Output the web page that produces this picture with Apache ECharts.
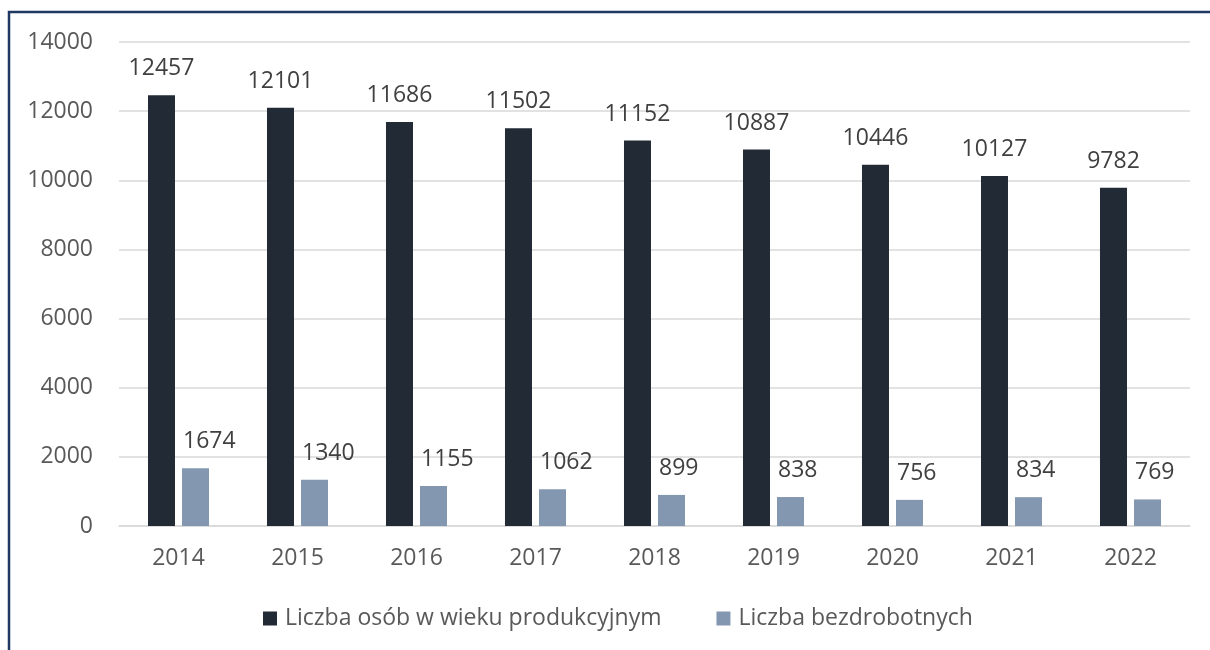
<!DOCTYPE html>
<html>
<head>
<meta charset="utf-8">
<script src="https://cdn.jsdelivr.net/npm/echarts@6/dist/echarts.min.js"></script>
<style>
  html, body { margin: 0; padding: 0; background: #ffffff; }
  #chart { width: 1210px; height: 650px; }
</style>
</head>
<body>
<div id="chart"></div>
<script>
// Years on the category axis
const years = ['2014', '2015', '2016', '2017', '2018', '2019', '2020', '2021', '2022'];
// Working-age population
const workingAge = [12457, 12101, 11686, 11502, 11152, 10887, 10446, 10127, 9782];
// Registered unemployed
const unemployed = [1674, 1340, 1155, 1062, 899, 838, 756, 834, 769];
const seriesNames = ['Liczba osób w wieku produkcyjnym', 'Liczba bezdrobotnych'];

const FONT = '"Open Sans", Lato, sans-serif';

const chart = echarts.init(document.getElementById('chart'), null, { renderer: 'canvas' });

chart.setOption({
  animation: false,
  backgroundColor: '#ffffff',
  graphic: [{
    type: 'rect',
    shape: { x: 9, y: 12, width: 1400, height: 900 },
    style: { fill: 'none', stroke: '#203864', lineWidth: 2.5 },
    silent: true,
    z: 100
  }],
  grid: { left: 119, right: 20, top: 42, bottom: 124, containLabel: false },
  legend: {
    data: seriesNames,
    top: 607,
    left: 263,
    padding: 0,
    itemWidth: 14,
    itemHeight: 14,
    itemGap: 55,
    icon: 'rect',
    textStyle: { color: '#595959', fontFamily: FONT, fontSize: 23, padding: [0, 0, 0, 3] }
  },
  xAxis: {
    type: 'category',
    data: years,
    axisLine: { show: true, lineStyle: { color: '#d9d9d9', width: 1.5 } },
    axisTick: { show: false },
    axisLabel: { color: '#595959', fontFamily: FONT, fontSize: 23, margin: 21 }
  },
  yAxis: {
    type: 'value',
    min: 0,
    max: 14000,
    interval: 2000,
    axisLine: { show: false },
    axisTick: { show: false },
    splitLine: { lineStyle: { color: '#d9d9d9', width: 1.5 } },
    axisLabel: {
      color: '#595959', fontFamily: FONT, fontSize: 23, margin: 26,
      formatter: (v) => String(v)
    }
  },
  series: [
    {
      name: seriesNames[0],
      type: 'bar',
      data: workingAge,
      barWidth: 27,
      barGap: '26%',
      itemStyle: { color: '#222a35' },
      label: {
        show: true,
        position: 'top',
        distance: 15,
        color: '#404040',
        fontFamily: FONT,
        fontSize: 23
      }
    },
    {
      name: seriesNames[1],
      type: 'bar',
      data: unemployed,
      barWidth: 27,
      itemStyle: { color: '#8497b0' },
      label: {
        show: true,
        position: [1, -15],
        align: 'left',
        verticalAlign: 'bottom',
        color: '#404040',
        fontFamily: FONT,
        fontSize: 23
      }
    }
  ]
});
</script>
</body>
</html>
